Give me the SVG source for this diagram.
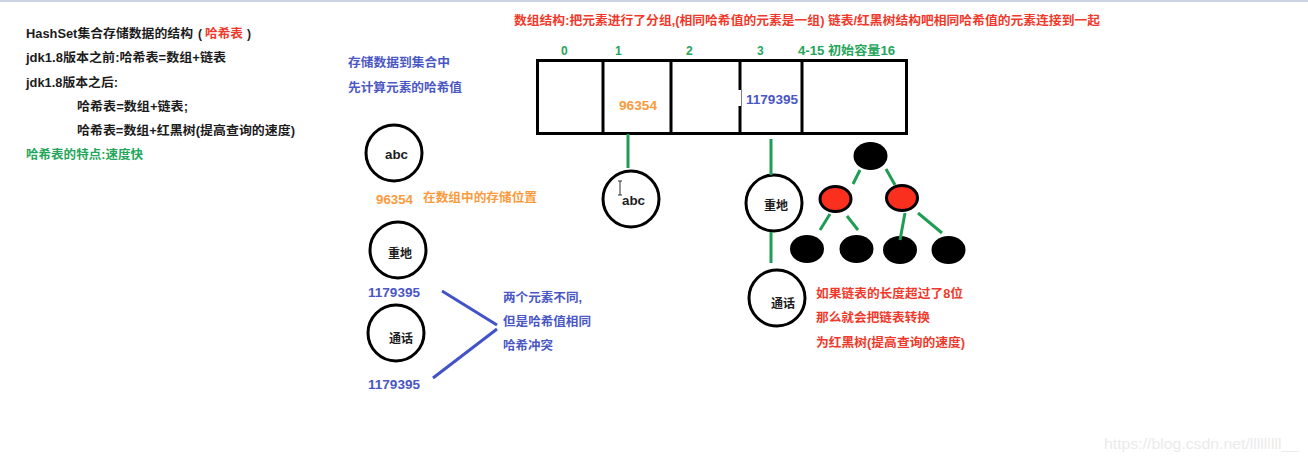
<svg xmlns="http://www.w3.org/2000/svg" width="1308" height="462" viewBox="0 0 1308 462">
<style>
text{font-family:"Liberation Sans","Noto Sans CJK SC",sans-serif;font-weight:700;font-size:12px}
.k{fill:#1c1c1c}.r{fill:#f0392b}.g{fill:#23a65a}.b{fill:#4a57c4}.o{fill:#fb9a3c}
.c{fill:#fff;stroke:#000;stroke-width:3}
.d{fill:#000}.e{fill:#fb2f1e;stroke:#000;stroke-width:3}
.gl{stroke:#1f9d55;stroke-width:3;fill:none}
.bl{stroke:#4252c8;stroke-width:3;fill:none}
.box{fill:#fff;stroke:#000;stroke-width:3}
</style>
<rect width="1308" height="462" fill="#fff"/>
<rect width="1308" height="2" fill="#ccd6e4"/>
<g id="notes-left">
<text x="26" y="38" class="k" textLength="167" lengthAdjust="spacingAndGlyphs">HashSet集合存储数据的结构</text>
<text x="198" y="38" class="k">(</text>
<text x="205" y="38" class="r" textLength="38" lengthAdjust="spacingAndGlyphs">哈希表</text>
<text x="247" y="38" class="k">)</text>
<text x="26" y="62" class="k" textLength="200" lengthAdjust="spacingAndGlyphs">jdk1.8版本之前:哈希表=数组+链表</text>
<text x="26" y="87" class="k" textLength="92" lengthAdjust="spacingAndGlyphs">jdk1.8版本之后:</text>
<text x="77" y="111" class="k" textLength="111" lengthAdjust="spacingAndGlyphs">哈希表=数组+链表;</text>
<text x="77" y="135" class="k" textLength="218" lengthAdjust="spacingAndGlyphs">哈希表=数组+红黑树(提高查询的速度)</text>
<text x="26" y="159" class="g" textLength="117" lengthAdjust="spacingAndGlyphs">哈希表的特点:速度快</text>
</g>
<g id="notes-store">
<text x="348" y="67" class="b" textLength="102" lengthAdjust="spacingAndGlyphs">存储数据到集合中</text>
<text x="348" y="92" class="b" textLength="114" lengthAdjust="spacingAndGlyphs">先计算元素的哈希值</text>
</g>
<g id="note-top">
<text x="514" y="25" class="r" textLength="586" lengthAdjust="spacingAndGlyphs">数组结构:把元素进行了分组,(相同哈希值的元素是一组) 链表/红黑树结构吧相同哈希值的元素连接到一起</text>
</g>
<g id="array">
<rect class="box" x="537.5" y="60.5" width="369" height="73"/>
<path d="M603 60V134M671 60V134M740 60V134M802 60V134" stroke="#000" stroke-width="3" fill="none"/>
<rect x="738" y="90" width="3" height="16" fill="#fff"/>
<text x="561" y="55" class="g">0</text>
<text x="615" y="55" class="g">1</text>
<text x="686" y="55" class="g">2</text>
<text x="757" y="55" class="g">3</text>
<text x="798" y="55" class="g" textLength="97" lengthAdjust="spacingAndGlyphs">4-15 初始容量16</text>
<text x="619" y="110" class="o" textLength="38" lengthAdjust="spacingAndGlyphs">96354</text>
<text x="746" y="104" class="b" textLength="52" lengthAdjust="spacingAndGlyphs">1179395</text>
</g>
<g id="node-abc-left"><circle class="c" cx="394" cy="153" r="28"/><text x="385" y="159" class="k" textLength="23" lengthAdjust="spacingAndGlyphs">abc</text></g>
<g id="label-96354"><text x="376" y="204" class="o" textLength="37" lengthAdjust="spacingAndGlyphs">96354</text><text x="423" y="202" class="o" textLength="114" lengthAdjust="spacingAndGlyphs">在数组中的存储位置</text></g>
<g id="node-zd-left"><circle class="c" cx="398" cy="250" r="28"/><text x="388" y="258" class="k">重地</text></g>
<g id="node-th-left"><circle class="c" cx="396" cy="333" r="28"/><text x="389" y="343" class="k">通话</text></g>
<g id="hash-labels">
<text x="368" y="297" class="b" textLength="52" lengthAdjust="spacingAndGlyphs">1179395</text>
<text x="368" y="389" class="b" textLength="52" lengthAdjust="spacingAndGlyphs">1179395</text>
</g>
<g id="note-collision">
<text x="503" y="302" class="b" textLength="79" lengthAdjust="spacingAndGlyphs">两个元素不同,</text>
<text x="503" y="326" class="b" textLength="88" lengthAdjust="spacingAndGlyphs">但是哈希值相同</text>
<text x="503" y="350" class="b" textLength="50" lengthAdjust="spacingAndGlyphs">哈希冲突</text>
</g>
<g id="node-abc"><ellipse class="c" cx="631" cy="199" rx="28" ry="28"/><text x="622" y="205" class="k" textLength="23" lengthAdjust="spacingAndGlyphs">abc</text>
<path d="M618 181h4M620 181v14M618 195h4" stroke="#333" stroke-width="1" fill="none"/></g>
<g id="node-zd"><circle class="c" cx="774" cy="203" r="28"/><text x="764" y="210" class="k">重地</text></g>
<g id="node-th"><circle class="c" cx="777" cy="298" r="28"/><text x="771" y="308" class="k">通话</text></g>
<g id="tree">
<ellipse class="d" cx="870.500" cy="156" rx="17" ry="14"/>
<ellipse class="e" cx="835.500" cy="199" rx="15.500" ry="12.500"/>
<ellipse class="e" cx="902" cy="198" rx="15.500" ry="12.500"/>
<ellipse class="d" cx="807" cy="249" rx="17" ry="14"/>
<ellipse class="d" cx="856.500" cy="249" rx="17" ry="14"/>
<ellipse class="d" cx="900" cy="250" rx="17" ry="14"/>
<ellipse class="d" cx="948.500" cy="250" rx="17" ry="14"/>
</g>
<g id="connectors">
<path class="gl" d="M628 134V168M771 139V175M771 232V263"/>
<path class="gl" d="M860 170L853 184M886 169L895 185M830 214L820 230M847 216L858 230M905 213L900 240M918 213L942 233"/>
<path class="bl" d="M442 291L497 325M433 378L497 329"/>
</g>
<g id="note-tree">
<text x="816" y="298" class="r" textLength="147" lengthAdjust="spacingAndGlyphs">如果链表的长度超过了8位</text>
<text x="816" y="322" class="r" textLength="114" lengthAdjust="spacingAndGlyphs">那么就会把链表转换</text>
<text x="816" y="347" class="r" textLength="149" lengthAdjust="spacingAndGlyphs">为红黑树(提高查询的速度)</text>
</g>
<text x="1104" y="449" style="font-weight:400;font-size:14px;fill:#ebebeb" textLength="195" lengthAdjust="spacingAndGlyphs">https://blog.csdn.net/lllllllll__</text>
</svg>
